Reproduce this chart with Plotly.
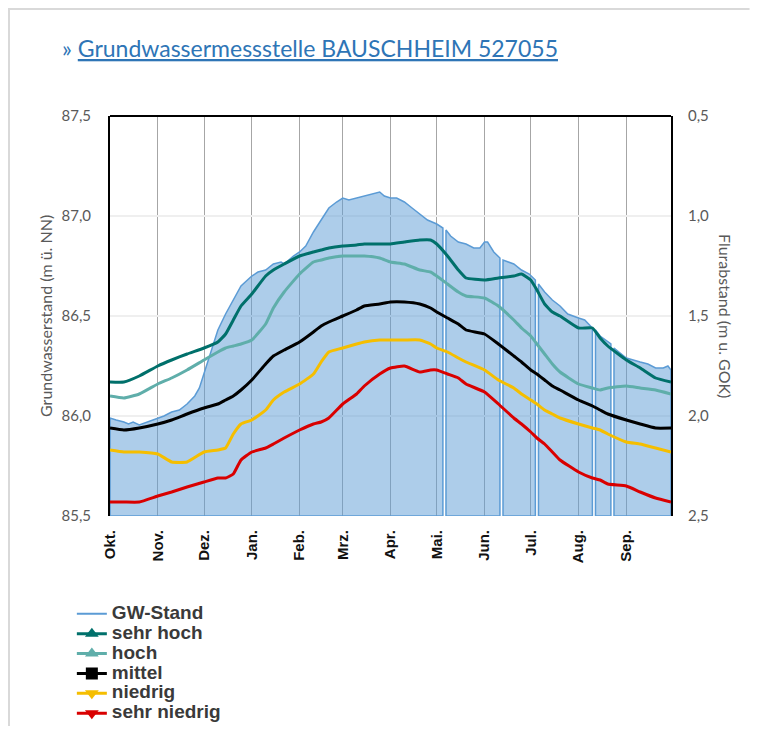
import plotly.graph_objects as go

# Monatsnamen (Ticks an den Monatsanfängen, hydrologisches Jahr)
month_ticks = ["10-01", "11-01", "12-01", "01-01", "02-01", "03-01",
               "04-01", "05-01", "06-01", "07-01", "08-01", "09-01"]
month_labels = ["Okt.", "Nov.", "Dez.", "Jan.", "Feb.", "Mrz.",
                "Apr.", "Mai.", "Jun.", "Jul.", "Aug.", "Sep."]

# Statistische Kennlinien (m ü. NN)
stat_days = ["10-01", "10-10", "10-20", "11-01", "11-10", "11-20", "12-01", "12-10",
             "12-15", "12-20", "12-25", "01-01", "01-10", "01-15", "01-22", "02-01",
             "02-10", "02-15", "02-20", "03-01", "03-10", "03-15", "03-25", "04-01",
             "04-10", "04-20", "04-27", "05-01", "05-08", "05-15", "05-20", "06-01",
             "06-10", "06-20", "06-25", "07-01", "07-05", "07-10", "07-15", "07-20",
             "08-01", "08-10", "08-15", "08-20", "09-01", "09-10", "09-20", "09-30"]
sehr_hoch = [86.17, 86.17, 86.20, 86.25, 86.28, 86.31, 86.34, 86.37,
             86.41, 86.48, 86.55, 86.61, 86.70, 86.73, 86.76, 86.80,
             86.82, 86.83, 86.84, 86.85, 86.855, 86.86, 86.86, 86.86,
             86.87, 86.88, 86.88, 86.86, 86.80, 86.73, 86.69, 86.68,
             86.69, 86.70, 86.71, 86.68, 86.63, 86.56, 86.52, 86.50,
             86.44, 86.44, 86.39, 86.35, 86.28, 86.24, 86.19, 86.17]
hoch = [86.10, 86.09, 86.11, 86.16, 86.19, 86.23, 86.28, 86.32,
        86.34, 86.35, 86.36, 86.38, 86.46, 86.54, 86.62, 86.71,
        86.77, 86.78, 86.79, 86.80, 86.80, 86.80, 86.79, 86.77,
        86.76, 86.73, 86.72, 86.70, 86.66, 86.62, 86.60, 86.59,
        86.55, 86.48, 86.44, 86.40, 86.36, 86.31, 86.26, 86.22,
        86.16, 86.14, 86.13, 86.14, 86.15, 86.14, 86.13, 86.11]
mittel = [85.94, 85.93, 85.94, 85.96, 85.98, 86.01, 86.04, 86.06,
          86.08, 86.10, 86.13, 86.18, 86.26, 86.30, 86.33, 86.37,
          86.42, 86.45, 86.47, 86.50, 86.53, 86.55, 86.56, 86.57,
          86.57, 86.56, 86.54, 86.52, 86.49, 86.46, 86.43, 86.41,
          86.36, 86.30, 86.27, 86.23, 86.21, 86.18, 86.15, 86.13,
          86.08, 86.05, 86.03, 86.01, 85.98, 85.96, 85.94, 85.94]
niedrig = [85.83, 85.82, 85.82, 85.81, 85.77, 85.77, 85.82, 85.83,
           85.84, 85.91, 85.96, 85.98, 86.03, 86.08, 86.12, 86.16,
           86.21, 86.27, 86.32, 86.34, 86.36, 86.37, 86.38, 86.38,
           86.38, 86.38, 86.36, 86.34, 86.32, 86.29, 86.27, 86.23,
           86.18, 86.14, 86.11, 86.08, 86.06, 86.03, 86.01, 85.99,
           85.96, 85.94, 85.93, 85.91, 85.87, 85.86, 85.84, 85.82]
sehr_niedrig = [85.57, 85.57, 85.57, 85.60, 85.62, 85.645, 85.67, 85.69,
                85.69, 85.71, 85.78, 85.82, 85.84, 85.86, 85.89, 85.93,
                85.96, 85.97, 85.99, 86.06, 86.11, 86.15, 86.21, 86.24,
                86.25, 86.22, 86.23, 86.23, 86.21, 86.19, 86.16, 86.12,
                86.06, 85.99, 85.96, 85.92, 85.89, 85.86, 85.82, 85.78,
                85.72, 85.69, 85.68, 85.66, 85.65, 85.62, 85.59, 85.57]

# Gemessener Grundwasserstand (None = Messlücke)
gw_days = ["10-01", "10-05", "10-10", "10-13", "10-16", "10-20", "10-25", "11-01",
           "11-05", "11-10", "11-15", "11-20", "11-25", "11-28", "12-01", "12-05",
           "12-10", "12-15", "12-20", "12-25", "01-01", "01-05", "01-10", "01-15",
           "01-20", "01-22", "01-28", "02-01", "02-05", "02-10", "02-15", "02-20",
           "02-25", "03-01", "03-05", "03-10", "03-15", "03-20", "03-25", "03-28",
           "04-01", "04-05", "04-10", "04-15", "04-20", "04-25", "05-01", "05-05",
           "05-06", "05-07", "05-10", "05-15", "05-20", "05-25", "05-29", "06-01",
           "06-03", "06-07", "06-11", "06-12", "06-13", "06-20", "06-25", "06-30",
           "07-04", "07-05", "07-06", "07-10", "07-15", "07-20", "07-25", "08-01",
           "08-05", "08-10", "08-11", "08-12", "08-15", "08-20", "08-22", "08-23",
           "08-24", "09-01", "09-05", "09-10", "09-15", "09-20", "09-25", "09-28",
           "09-30"]
gw_stand = [85.99, 85.98, 85.97, 85.96, 85.97, 85.955, 85.97, 85.99,
            86.00, 86.02, 86.03, 86.06, 86.10, 86.14, 86.21, 86.31,
            86.43, 86.51, 86.58, 86.65, 86.70, 86.72, 86.73, 86.76,
            86.77, 86.76, 86.80, 86.82, 86.85, 86.92, 86.98, 87.04,
            87.07, 87.09, 87.08, 87.09, 87.10, 87.11, 87.12, 87.10,
            87.09, 87.09, 87.07, 87.04, 87.01, 86.98, 86.96, 86.94,
            None, 86.93, 86.90, 86.87, 86.86, 86.84, 86.84, 86.87,
            86.87, 86.82, 86.79, None, 86.78, 86.76, 86.73, 86.71,
            86.68, None, 86.66, 86.62, 86.58, 86.55, 86.51, 86.49,
            86.48, 86.44, None, 86.43, 86.40, 86.37, 86.36, None,
            86.34, 86.29, 86.28, 86.27, 86.26, 86.24, 86.24, 86.25,
            86.23]

gok = 88.0  # Geländeoberkante -> Flurabstand = GOK - GW
y_min, y_max = 85.5, 87.5


def to_date(md):
    year = 2022 if int(md[:2]) >= 10 else 2023
    return f"{year}-{md}"


stat_x = [to_date(d) for d in stat_days]
gw_x = [to_date(d) for d in gw_days]
tick_x = [to_date(d) for d in month_ticks]

fig = go.Figure()

# GW-Stand als Fläche, an Messlücken unterbrochen (wie Excel-Flächendiagramm)
segments, cur = [], []
for d, v in zip(gw_x, gw_stand):
    if v is None:
        if cur:
            segments.append(cur)
        cur = []
    else:
        cur.append((d, v))
if cur:
    segments.append(cur)

for seg in segments:
    xs = [p[0] for p in seg]
    ys = [p[1] for p in seg]
    fig.add_trace(go.Scatter(x=[xs[0]] + xs + [xs[-1], xs[0]],
                             y=[y_min] + ys + [y_min, y_min],
                             mode="lines", fill="toself",
                             fillcolor="rgba(91,155,213,0.5)",
                             line=dict(color="#5B9BD5", width=1.5),
                             hoverinfo="skip", showlegend=False))

series = [
    ("sehr hoch", sehr_hoch, "#00706B", "triangle-up"),
    ("hoch", hoch, "#5FAEAA", "triangle-up"),
    ("mittel", mittel, "#000000", "square"),
    ("niedrig", niedrig, "#F5BE00", "triangle-down"),
    ("sehr niedrig", sehr_niedrig, "#D90000", "triangle-down"),
]
for name, vals, col, sym in series:
    fig.add_trace(go.Scatter(x=stat_x, y=vals, mode="lines", name=name,
                             line=dict(color=col, width=3, shape="spline", smoothing=0.4),
                             showlegend=False))

# Legendeneinträge
lg = '<span style="font-size:19px">%s</span>'
fig.add_trace(go.Scatter(x=[None], y=[None], mode="lines", name=lg % "GW-Stand",
                         line=dict(color="#5B9BD5", width=2)))
for name, vals, col, sym in series:
    fig.add_trace(go.Scatter(x=[None], y=[None], mode="lines+markers", name=lg % name,
                             line=dict(color=col, width=3),
                             marker=dict(symbol=sym, size=12, color=col)))

# Sekundärachse Flurabstand
fig.add_trace(go.Scatter(x=[None], y=[None], yaxis="y2", showlegend=False))

# Seite hat 8 px Rand -> Plotbereich absolut bei x 110..671, y 116..516
fig.update_layout(
    width=748, height=718,
    margin=dict(l=102, r=85, t=108, b=210, autoexpand=False),
    paper_bgcolor="white", plot_bgcolor="white",
    separators=",.",
    font=dict(family="Lato, sans-serif", color="#595959"),
    xaxis=dict(type="date", range=[to_date("10-01"), to_date("09-30")],
               tickvals=tick_x, ticktext=month_labels, tickangle=-90,
               tickfont=dict(family="Liberation Sans", size=15, color="#111111", weight="bold"),
               ticks="", ticklabelstandoff=10,
               showgrid=True, gridcolor="#A6A6A6", gridwidth=1,
               showline=False, zeroline=False),
    yaxis=dict(range=[y_min, y_max], tickvals=[85.5, 86.0, 86.5, 87.0, 87.5],
               tickformat=".1f", tickfont=dict(size=15, color="#595959"),
               ticklabelstandoff=14, ticks="",
               showgrid=True, gridcolor="#EFEFEF", gridwidth=2,
               showline=True, mirror=True, linecolor="black", linewidth=2,
               layer="below traces", zeroline=False),
    yaxis2=dict(overlaying="y", side="right", range=[gok - y_min, gok - y_max],
                tickvals=[0.5, 1.0, 1.5, 2.0, 2.5], tickformat=".1f",
                tickfont=dict(size=15, color="#595959"), ticklabelstandoff=16,
                ticks="", showgrid=False, zeroline=False, showline=False),
    legend=dict(x=-0.068, y=-0.207, xanchor="left", yanchor="top",
                font=dict(family="Liberation Sans", size=13, color="#3A3A3A", weight="bold"),
                bgcolor="rgba(0,0,0,0)", tracegroupgap=0),
    showlegend=True,
)

fig.add_annotation(xref="paper", yref="paper", x=-0.089, y=1.17,
                   xanchor="left", yanchor="middle", showarrow=False,
                   text="» <u>Grundwassermessstelle BAUSCHHEIM 527055</u>",
                   font=dict(family="Lato", size=23, color="#2E75B6"))
fig.add_annotation(xref="paper", yref="paper", x=(45 - 110) / 561, y=0.5,
                   xanchor="center", yanchor="middle",
                   textangle=-90, showarrow=False, text="Grundwasserstand (m ü. NN)",
                   font=dict(size=16, color="#595959"))
fig.add_annotation(xref="paper", yref="paper", x=(726 - 110) / 561, y=0.5,
                   xanchor="center", yanchor="middle",
                   textangle=90, showarrow=False, text="Flurabstand (m u. GOK)",
                   font=dict(size=16, color="#595959"))

# Rahmen oben am Diagramm und äußerer Rahmen
fig.add_shape(type="line", xref="paper", yref="paper", x0=0, x1=1, y0=1, y1=1,
              line=dict(color="black", width=2))
fig.add_shape(type="path", xref="paper", yref="paper",
              path="M -0.1800,-0.55 L -0.1800,1.2675 L 1.14,1.2675",
              line=dict(color="#D9D9D9", width=2))

fig.write_html("out.html", config={"displayModeBar": False})
